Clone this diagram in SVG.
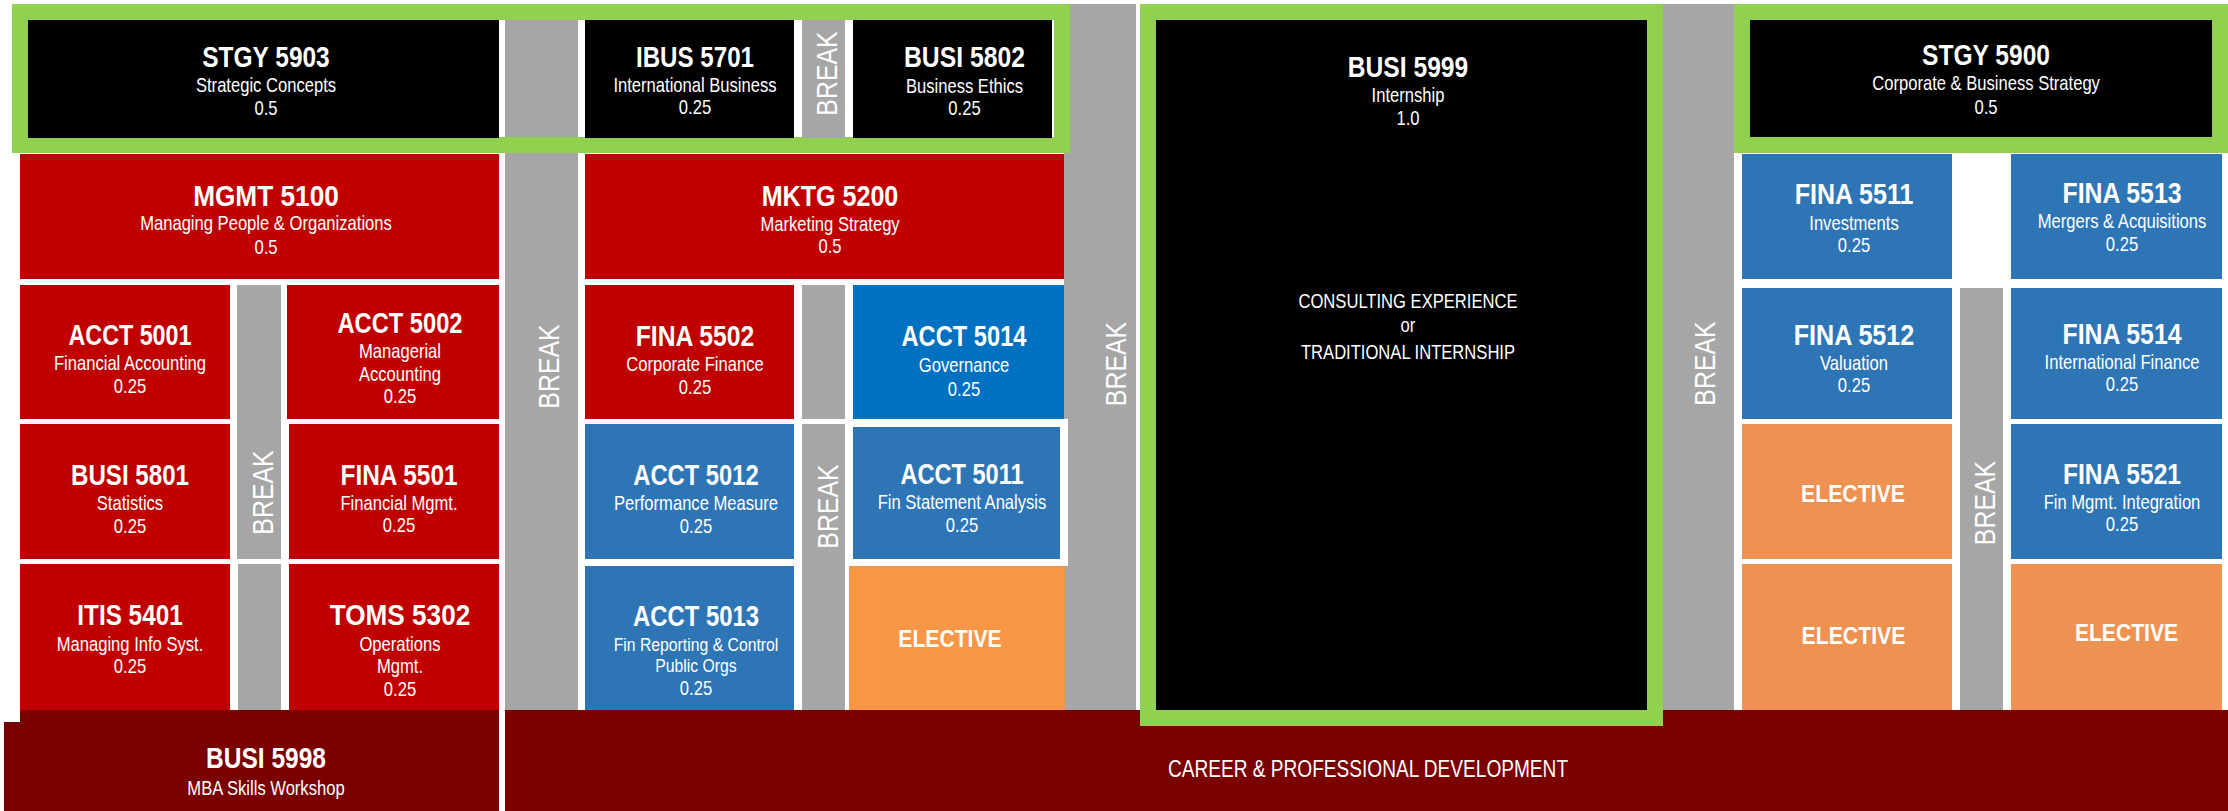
<svg xmlns="http://www.w3.org/2000/svg" width="2228" height="811" viewBox="0 0 2228 811">
<style>
text{font-family:"Liberation Sans",Arial,sans-serif;fill:#fff;text-anchor:middle}
.t{font-weight:bold;font-size:29px}
.e{font-weight:bold;font-size:24px}
.s{font-size:20px;transform-box:fill-box;transform-origin:center;transform:scaleX(0.83)}
.s19{font-size:19px}
.b{font-size:30px}
.red{fill:#C00000}
.dred{fill:#7A0000}
.gray{fill:#A6A6A6}
.blue{fill:#2E75B6}
.bblue{fill:#0070C0}
.org{fill:#F79646}
.org2{fill:#EE9252}
.blk{fill:#000}
.frame{fill:none;stroke:#92D050;stroke-width:16}
</style>
<rect x="0" y="0" width="2228" height="811" fill="#fff"/>

<!-- break columns -->
<g id="break-col1"><rect class="gray" x="505" y="4" width="73" height="706"/><text class="b" transform="translate(559 366.5) rotate(-90) scale(0.83 1)">BREAK</text></g>
<g id="break-col2"><rect class="gray" x="1064" y="4" width="72" height="706"/><text class="b" transform="translate(1125.5 364) rotate(-90) scale(0.83 1)">BREAK</text></g>
<g id="break-col3"><rect class="gray" x="1663" y="4" width="71" height="706"/><text class="b" transform="translate(1715 363.5) rotate(-90) scale(0.83 1)">BREAK</text></g>

<!-- bottom bands -->
<g id="career"><rect class="dred" x="505" y="710" width="1723" height="101"/><text style="font-size:23px;transform-box:fill-box;transform-origin:center;transform:scaleX(0.83)" x="1368" y="777">CAREER &amp; PROFESSIONAL DEVELOPMENT</text></g>
<g id="busi5998"><path class="dred" d="M20 710H499V811H4V722H20Z"/><text class="t" x="266" y="768" textLength="120" lengthAdjust="spacingAndGlyphs">BUSI 5998</text><text class="s" x="266" y="795">MBA Skills Workshop</text></g>

<!-- top-left green block -->
<g id="block1-frame"><rect class="frame" x="20" y="12" width="1042" height="133"/></g>
<g id="stgy5903"><rect class="blk" x="28" y="20" width="471" height="118"/><text class="t" x="266" y="67" textLength="127.5" lengthAdjust="spacingAndGlyphs">STGY 5903</text><text class="s" x="266" y="92">Strategic Concepts</text><text class="s" x="266" y="115">0.5</text></g>
<g id="ibus5701"><rect class="blk" x="585" y="20" width="209" height="118"/><text class="t" x="695" y="67" textLength="118" lengthAdjust="spacingAndGlyphs">IBUS 5701</text><text class="s" x="695" y="92">International Business</text><text class="s" x="695" y="114.5">0.25</text></g>
<g id="break-top"><rect class="gray" x="802" y="20" width="43" height="118"/><text class="b" transform="translate(837 73.5) rotate(-90) scale(0.83 1)">BREAK</text></g>
<g id="busi5802"><rect class="blk" x="853" y="20" width="199" height="118"/><text class="t" x="964.5" y="67" textLength="121" lengthAdjust="spacingAndGlyphs">BUSI 5802</text><text class="s" x="964.5" y="93">Business Ethics</text><text class="s" x="964.5" y="115">0.25</text></g>

<!-- left section -->
<g id="mgmt5100"><rect class="red" x="20" y="154" width="479" height="125"/><text class="t" x="266" y="206" textLength="145.7" lengthAdjust="spacingAndGlyphs">MGMT 5100</text><text class="s" x="266" y="230.5">Managing People &amp; Organizations</text><text class="s" x="266" y="254">0.5</text></g>
<g id="acct5001"><rect class="red" x="20" y="285" width="210" height="134"/><text class="t" x="130" y="345" textLength="123" lengthAdjust="spacingAndGlyphs">ACCT 5001</text><text class="s" x="130" y="370.5">Financial Accounting</text><text class="s" x="130" y="393">0.25</text></g>
<g id="break-left"><rect class="gray" x="237" y="285" width="44" height="274"/><rect class="gray" x="238" y="564" width="43" height="146"/><text class="b" transform="translate(273 492.5) rotate(-90) scale(0.83 1)">BREAK</text></g>
<g id="acct5002"><rect class="red" x="287" y="285" width="212" height="134"/><text class="t" x="400" y="332.5" textLength="125" lengthAdjust="spacingAndGlyphs">ACCT 5002</text><text class="s" x="400" y="358">Managerial</text><text class="s" x="400" y="381.5">Accounting</text><text class="s" x="400" y="403">0.25</text></g>
<g id="busi5801"><rect class="red" x="20" y="424" width="210" height="135"/><text class="t" x="130" y="485" textLength="118" lengthAdjust="spacingAndGlyphs">BUSI 5801</text><text class="s" x="130" y="510">Statistics</text><text class="s" x="130" y="533">0.25</text></g>
<g id="fina5501"><rect class="red" x="289" y="424" width="210" height="135"/><text class="t" x="399" y="485" textLength="117" lengthAdjust="spacingAndGlyphs">FINA 5501</text><text class="s" x="399" y="510">Financial Mgmt.</text><text class="s" x="399" y="532">0.25</text></g>
<g id="itis5401"><rect class="red" x="20" y="564" width="210" height="146"/><text class="t" x="130" y="625" textLength="105.4" lengthAdjust="spacingAndGlyphs">ITIS 5401</text><text class="s" x="130" y="651">Managing Info Syst.</text><text class="s" x="130" y="673">0.25</text></g>
<g id="toms5302"><rect class="red" x="289" y="564" width="210" height="146"/><text class="t" x="400" y="625" textLength="140.4" lengthAdjust="spacingAndGlyphs">TOMS 5302</text><text class="s" x="400" y="651">Operations</text><text class="s" x="400" y="673">Mgmt.</text><text class="s" x="400" y="696.5">0.25</text></g>

<!-- middle section -->
<g id="mktg5200"><rect class="red" x="585" y="154" width="479" height="125"/><text class="t" x="830" y="206" textLength="136.6" lengthAdjust="spacingAndGlyphs">MKTG 5200</text><text class="s" x="830" y="231.5">Marketing Strategy</text><text class="s" x="830" y="253.5">0.5</text></g>
<g id="fina5502"><rect class="red" x="585" y="285" width="209" height="134"/><text class="t" x="695" y="346" textLength="118.6" lengthAdjust="spacingAndGlyphs">FINA 5502</text><text class="s" x="695" y="371">Corporate Finance</text><text class="s" x="695" y="394">0.25</text></g>
<g id="break-mid-top"><rect class="gray" x="802" y="285" width="43" height="134"/></g>
<g id="acct5014"><rect class="bblue" x="853" y="285" width="211" height="134"/><text class="t" x="964" y="346" textLength="125" lengthAdjust="spacingAndGlyphs">ACCT 5014</text><text class="s" x="964" y="372">Governance</text><text class="s" x="964" y="396">0.25</text></g>
<g id="acct5012"><rect class="blue" x="585" y="424" width="209" height="135"/><text class="t" x="696" y="484.5" textLength="125.5" lengthAdjust="spacingAndGlyphs">ACCT 5012</text><text class="s" x="696" y="510">Performance Measure</text><text class="s" x="696" y="533">0.25</text></g>
<g id="break-mid"><rect class="gray" x="802" y="424" width="43" height="286"/><text class="b" transform="translate(837.5 506.5) rotate(-90) scale(0.83 1)">BREAK</text></g>
<g id="acct5011"><rect fill="#fff" x="845" y="419" width="223" height="147"/><rect class="blue" x="853" y="427" width="207" height="132"/><text class="t" x="962" y="483.5" textLength="123.2" lengthAdjust="spacingAndGlyphs">ACCT 5011</text><text class="s" x="962" y="509">Fin Statement Analysis</text><text class="s" x="962" y="532">0.25</text></g>
<g id="acct5013"><rect class="blue" x="585" y="566" width="209" height="144"/><text class="t" x="696" y="625.5" textLength="126" lengthAdjust="spacingAndGlyphs">ACCT 5013</text><text class="s s19" x="696" y="651.5">Fin Reporting &amp; Control</text><text class="s s19" x="696" y="672.5">Public Orgs</text><text class="s" x="696" y="695.5">0.25</text></g>
<g id="elective-mid"><rect class="org" x="849" y="566" width="216" height="144"/><text class="e" x="950" y="647" textLength="103.3" lengthAdjust="spacingAndGlyphs">ELECTIVE</text></g>

<!-- internship -->
<g id="busi5999"><rect x="1148" y="12" width="507" height="706" fill="#000" stroke="#92D050" stroke-width="16"/><text class="t" x="1408" y="76.5" textLength="120.5" lengthAdjust="spacingAndGlyphs">BUSI 5999</text><text class="s" x="1408" y="102.5">Internship</text><text class="s" x="1408" y="125">1.0</text><text class="s" x="1408" y="308">CONSULTING EXPERIENCE</text><text class="s" x="1408" y="332.5">or</text><text class="s" x="1408" y="359">TRADITIONAL INTERNSHIP</text></g>

<!-- right section -->
<g id="stgy5900"><rect x="1742" y="12" width="478" height="133" fill="#000" stroke="#92D050" stroke-width="16"/><text class="t" x="1986" y="65" textLength="128" lengthAdjust="spacingAndGlyphs">STGY 5900</text><text class="s" x="1986" y="90.5">Corporate &amp; Business Strategy</text><text class="s" x="1986" y="114">0.5</text></g>
<g id="fina5511"><rect class="blue" x="1742" y="154" width="210" height="125"/><text class="t" x="1854" y="203.5" textLength="118.7" lengthAdjust="spacingAndGlyphs">FINA 5511</text><text class="s" x="1854" y="230">Investments</text><text class="s" x="1854" y="252.5">0.25</text></g>
<g id="fina5513"><rect class="blue" x="2011" y="154" width="211" height="125"/><text class="t" x="2122" y="202.5" textLength="119" lengthAdjust="spacingAndGlyphs">FINA 5513</text><text class="s" x="2122" y="228.5">Mergers &amp; Acquisitions</text><text class="s" x="2122" y="251">0.25</text></g>
<g id="fina5512"><rect class="blue" x="1742" y="288" width="210" height="131"/><text class="t" x="1854" y="345" textLength="120.5" lengthAdjust="spacingAndGlyphs">FINA 5512</text><text class="s" x="1854" y="370">Valuation</text><text class="s" x="1854" y="392.5">0.25</text></g>
<g id="break-right"><rect class="gray" x="1960" y="288" width="43" height="422"/><text class="b" transform="translate(1995 503) rotate(-90) scale(0.83 1)">BREAK</text></g>
<g id="fina5514"><rect class="blue" x="2011" y="288" width="211" height="131"/><text class="t" x="2122" y="344" textLength="119" lengthAdjust="spacingAndGlyphs">FINA 5514</text><text class="s" x="2122" y="369">International Finance</text><text class="s" x="2122" y="391.5">0.25</text></g>
<g id="elective-r1"><rect class="org2" x="1742" y="424" width="210" height="135"/><text class="e" x="1853" y="501.5" textLength="104" lengthAdjust="spacingAndGlyphs">ELECTIVE</text></g>
<g id="fina5521"><rect class="blue" x="2011" y="424" width="211" height="135"/><text class="t" x="2122" y="484" textLength="118" lengthAdjust="spacingAndGlyphs">FINA 5521</text><text class="s" x="2122" y="509">Fin Mgmt. Integration</text><text class="s" x="2122" y="531">0.25</text></g>
<g id="elective-r2"><rect class="org2" x="1742" y="564" width="210" height="146"/><text class="e" x="1853.5" y="643.5" textLength="104" lengthAdjust="spacingAndGlyphs">ELECTIVE</text></g>
<g id="elective-r3"><rect class="org2" x="2011" y="564" width="211" height="146"/><text class="e" x="2126.5" y="641" textLength="103.2" lengthAdjust="spacingAndGlyphs">ELECTIVE</text></g>

<g id="connectors"></g>
</svg>
